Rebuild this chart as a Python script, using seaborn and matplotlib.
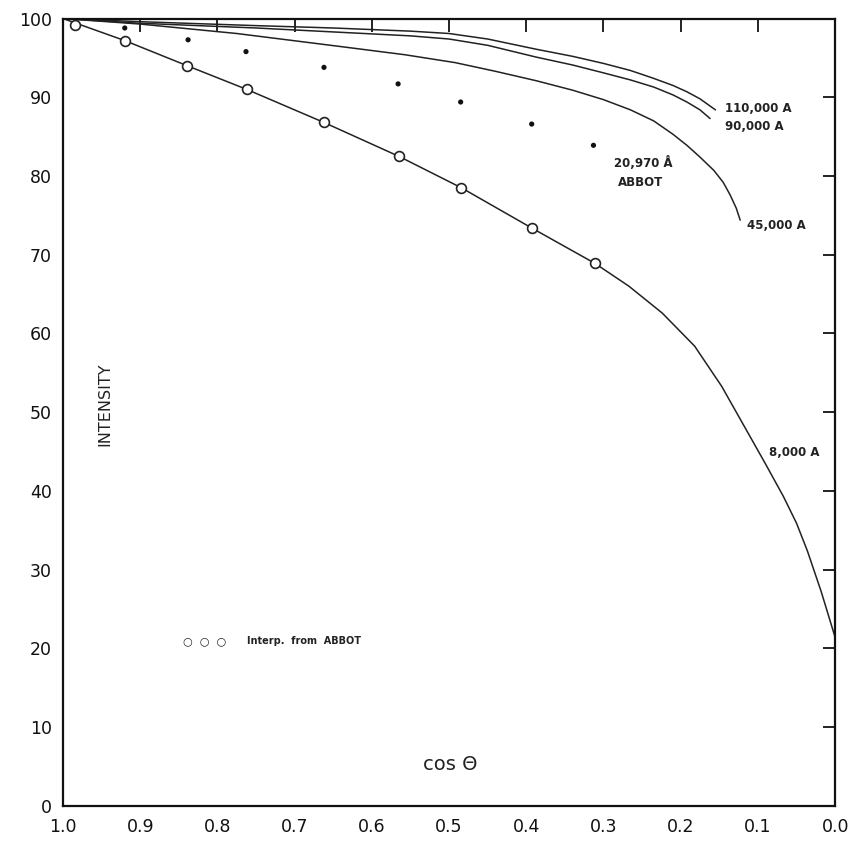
import numpy as np
import pandas as pd
import matplotlib
matplotlib.use("Agg")
import matplotlib.pyplot as plt
import seaborn as sns

# ---------------- data ----------------
cos_110k = [1.0, 0.9, 0.75, 0.65, 0.55, 0.5, 0.45, 0.387, 0.34, 0.30, 0.265,
            0.235, 0.21, 0.192, 0.175, 0.155]
int_110k = [100.0, 99.6, 99.1, 98.8, 98.4, 98.1, 97.4, 96.1, 95.2, 94.3, 93.4,
            92.4, 91.5, 90.7, 89.8, 88.4]

cos_90k = [1.0, 0.9, 0.75, 0.65, 0.55, 0.5, 0.45, 0.387, 0.34, 0.30, 0.265,
           0.235, 0.21, 0.192, 0.175, 0.162]
int_90k = [100.0, 99.4, 98.8, 98.3, 97.8, 97.4, 96.6, 95.1, 94.1, 93.1, 92.2,
           91.3, 90.3, 89.4, 88.4, 87.3]

cos_45k = [1.0, 0.9, 0.775, 0.645, 0.557, 0.492, 0.44, 0.387, 0.34, 0.30,
           0.265, 0.235, 0.21, 0.192, 0.175, 0.157, 0.145, 0.136, 0.128, 0.123]
int_45k = [100.0, 99.3, 98.1, 96.5, 95.4, 94.4, 93.3, 92.1, 90.9, 89.7,
           88.4, 87.0, 85.3, 83.9, 82.4, 80.7, 79.2, 77.6, 75.9, 74.4]

cos_8k = [1.0, 0.92, 0.839, 0.762, 0.662, 0.565, 0.484, 0.393, 0.311, 0.267,
          0.224, 0.182, 0.147, 0.113, 0.09, 0.067, 0.05, 0.036, 0.018, 0.0]
int_8k = [100.0, 97.2, 94.0, 91.0, 86.8, 82.5, 78.5, 73.4, 68.9, 66.0,
          62.6, 58.4, 53.3, 47.4, 43.4, 39.3, 35.9, 32.4, 27.2, 21.4]

# Abbot 20,970 A observations (filled dots)
abbot_cos = [0.920, 0.838, 0.763, 0.662, 0.566, 0.485, 0.393, 0.313]
abbot_int = [98.8, 97.3, 95.8, 93.8, 91.7, 89.4, 86.6, 83.9]

# Interpolated from Abbot (open circles)
interp_cos = [0.984, 0.920, 0.839, 0.762, 0.662, 0.565, 0.484, 0.393, 0.311]
interp_int = [99.2, 97.2, 94.0, 91.0, 86.8, 82.5, 78.5, 73.4, 68.9]

x_ticks = [1.0, 0.9, 0.8, 0.7, 0.6, 0.5, 0.4, 0.3, 0.2, 0.1, 0.0]
x_ticklabels = ["1.0", "0.9", "0.8", "0.7", "0.6", "0.5", "0.4", "0.3", "0.2", "0.1", "0.0"]
y_ticks = [0, 10, 20, 30, 40, 50, 60, 70, 80, 90, 100]

# ---------------- build frames ----------------
curves = pd.concat([
    pd.DataFrame({"cos": cos_110k, "I": int_110k, "series": "110,000 A"}),
    pd.DataFrame({"cos": cos_90k, "I": int_90k, "series": "90,000 A"}),
    pd.DataFrame({"cos": cos_45k, "I": int_45k, "series": "45,000 A"}),
    pd.DataFrame({"cos": cos_8k, "I": int_8k, "series": "8,000 A"}),
], ignore_index=True)
abbot = pd.DataFrame({"cos": abbot_cos, "I": abbot_int})
interp = pd.DataFrame({"cos": interp_cos, "I": interp_int})

# ---------------- plot ----------------
sns.set_style("white")
plt.rcParams["font.family"] = ["DejaVu Sans"]

fig = plt.figure(figsize=(8.57, 8.43), dpi=100)
ax = fig.add_axes([0.0735, 0.044, 0.901, 0.934])

sns.lineplot(data=curves, x="cos", y="I", units="series", estimator=None,
             sort=False, color="#222222", linewidth=1.1, ax=ax, legend=False)
sns.scatterplot(data=abbot, x="cos", y="I", color="#111111", s=14,
                marker="o", edgecolor="none", ax=ax, legend=False, zorder=5)
sns.scatterplot(data=interp, x="cos", y="I", s=50, marker="o",
                facecolor="white", edgecolor="#222222", linewidth=1.2,
                ax=ax, legend=False, zorder=6)

ax.set_xlim(1.0, 0.0)
ax.set_ylim(0, 100)
ax.set_xticks(x_ticks)
ax.set_xticklabels(x_ticklabels)
ax.set_yticks(y_ticks)
ax.set_xlabel("")
ax.set_ylabel("")

for sp in ax.spines.values():
    sp.set_visible(True)
    sp.set_color("#111111")
    sp.set_linewidth(1.6)

ax.tick_params(axis="both", which="both", direction="in", length=9,
               width=1.3, colors="#111111", labelsize=12.5,
               top=True, right=True, labeltop=False, labelright=False)
ax.tick_params(axis="x", pad=9)
ax.tick_params(axis="y", pad=8)
for lab in ax.get_xticklabels() + ax.get_yticklabels():
    lab.set_fontweight("medium")

# annotations
txt_kw = dict(color="#222222", fontsize=8.5, fontweight="bold")
ax.text(0.143, 88.6, "110,000 A", ha="left", va="center", **txt_kw)
ax.text(0.143, 86.3, "90,000 A", ha="left", va="center", **txt_kw)
ax.text(0.249, 81.6, "20,970 Å", ha="center", va="center", **txt_kw)
ax.text(0.252, 79.2, "ABBOT", ha="center", va="center", **txt_kw)
ax.text(0.114, 73.7, "45,000 A", ha="left", va="center", **txt_kw)
ax.text(0.086, 44.9, "8,000 A", ha="left", va="center", **txt_kw)

# legend-like note for open circles
ax.text(0.845, 20.9, "○  ○  ○", ha="left", va="center", fontsize=8,
        color="#222222")
ax.text(0.762, 20.9, "Interp.  from  ABBOT", ha="left", va="center",
        fontsize=7, fontweight="bold", color="#222222")

ax.text(0.946, 51.0, "INTENSITY", rotation=90, ha="center", va="center",
        fontsize=11.5, fontweight="medium", color="#222222")
ax.text(0.499, 5.3, "cos Θ", ha="center", va="center", fontsize=14,
        color="#222222")

fig.savefig("out.png", dpi=100, facecolor="white")
